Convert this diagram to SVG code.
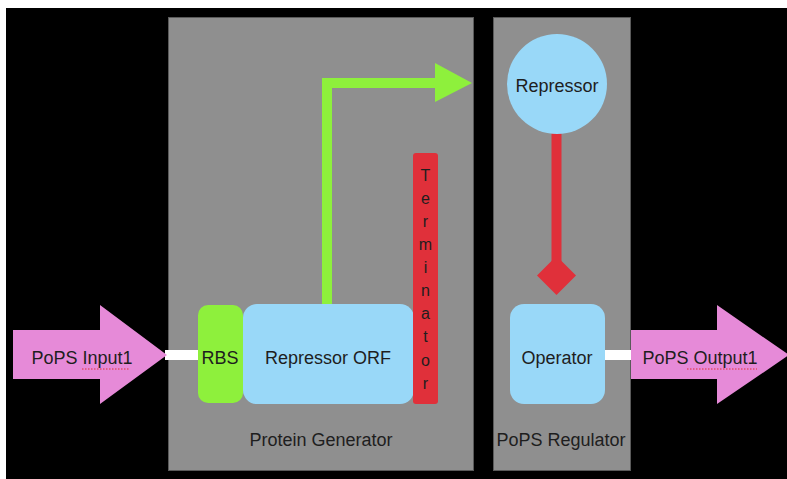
<svg xmlns="http://www.w3.org/2000/svg" width="787" height="479" viewBox="0 0 787 479">
<style>
text{font-family:"Liberation Sans",Arial,sans-serif;fill:#1e1e1e;text-anchor:middle}
.lbl{font-size:18px}
.term{font-size:16px}
.box{fill:#8f8f8f;stroke:#5a5a5a;stroke-width:1}
.blue{fill:#99d8f8}
.pink{fill:#e68ad8}
.white{fill:#ffffff}
.spell{stroke:#e0303a;stroke-width:1;stroke-dasharray:1.5 1.5}
</style>
<rect x="0" y="0" width="787" height="479" fill="#ffffff"/>
<rect x="6" y="8" width="781" height="471" fill="#000000"/>
<g id="protein-generator">
<rect class="box" x="168.5" y="17.5" width="305" height="453"/>
<text class="lbl" x="321" y="446">Protein Generator</text>
</g>
<g id="pops-regulator">
<rect class="box" x="493.5" y="17.5" width="137" height="453"/>
<text class="lbl" x="561" y="446">PoPS Regulator</text>
</g>
<g id="connectors">
<rect class="white" x="165" y="350" width="35" height="10"/>
<rect class="white" x="603" y="350" width="30" height="10"/>
<path d="M327 304 V83 H437" fill="none" stroke="#8ef03c" stroke-width="10"/>
<polygon points="435,63 472,83 435,102" fill="#8ef03c"/>
<rect x="551.5" y="132" width="10" height="130" fill="#e0303a"/>
<polygon points="556.5,256 576,275.5 556.5,295 537,275.5" fill="#e0303a"/>
</g>
<g id="pops-input">
<polygon class="pink" points="13,330 100,330 100,305 167,355 100,404 100,379 13,379"/>
<text class="lbl" x="82" y="364">PoPS Input1</text>
<line class="spell" x1="82" y1="369" x2="130" y2="369"/>
</g>
<g id="rbs">
<rect x="198" y="305" width="45" height="98" rx="10" fill="#8ef03c"/>
<text class="lbl" x="220" y="364">RBS</text>
</g>
<g id="repressor-orf">
<rect class="blue" x="243" y="304" width="171" height="100" rx="14"/>
<text class="lbl" x="328" y="364">Repressor ORF</text>
</g>
<g id="terminator">
<rect x="413" y="153" width="25" height="251" rx="3" fill="#e0303a"/>
<text class="term" x="425.5" y="181">T</text>
<text class="term" x="425.5" y="204">e</text>
<text class="term" x="425.5" y="227">r</text>
<text class="term" x="425.5" y="250">m</text>
<text class="term" x="425.5" y="273">i</text>
<text class="term" x="425.5" y="296">n</text>
<text class="term" x="425.5" y="319">a</text>
<text class="term" x="425.5" y="342">t</text>
<text class="term" x="425.5" y="366">o</text>
<text class="term" x="425.5" y="389">r</text>
</g>
<g id="repressor">
<circle class="blue" cx="557" cy="84" r="50"/>
<text class="lbl" x="557" y="92">Repressor</text>
</g>
<g id="operator">
<rect class="blue" x="510" y="304" width="95" height="100" rx="14"/>
<text class="lbl" x="557" y="364">Operator</text>
</g>
<g id="pops-output">
<polygon class="pink" points="631,330 717,330 717,305 789,355 717,404 717,379 631,379"/>
<text class="lbl" x="700" y="364">PoPS Output1</text>
<line class="spell" x1="687" y1="369" x2="757" y2="369"/>
</g>
</svg>
